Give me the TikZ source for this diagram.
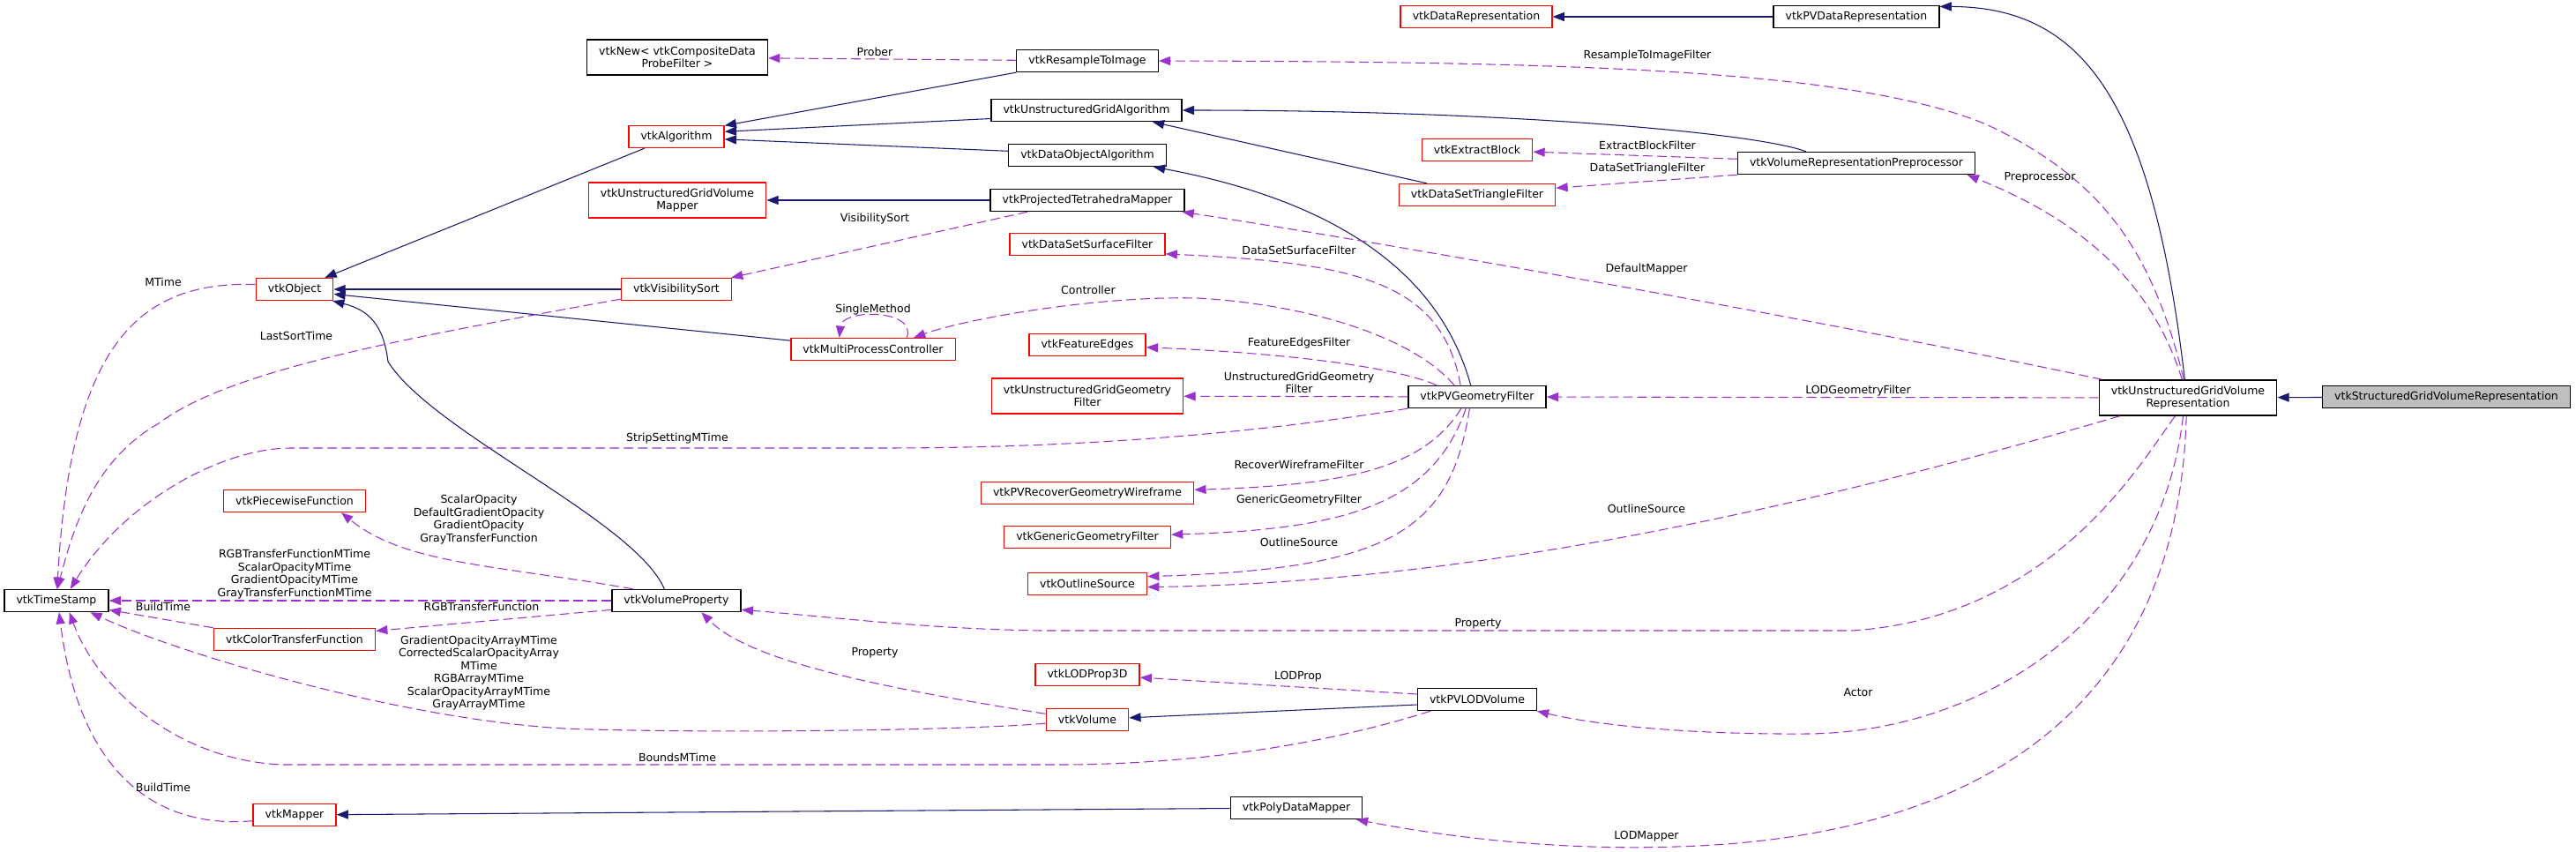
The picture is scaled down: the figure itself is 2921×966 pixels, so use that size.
\documentclass[tikz,border=0pt]{standalone}
\usepackage{fontspec}
\setmainfont{DejaVu Sans}
\usepackage{xcolor}
\usepackage{tikz}
\usetikzlibrary{arrows.meta}
\definecolor{inhblue}{HTML}{191970}
\definecolor{usepurple}{HTML}{9A32CD}
\definecolor{mainfill}{HTML}{BFBFBF}
\begin{document}
\begin{tikzpicture}[
    x=0.025cm, y=-0.025cm,
    cls/.style={draw=black, fill=white, line width=1pt, minimum height=0.625cm, inner xsep=0.34cm, inner ysep=0pt, align=center, font=\fontsize{8.9}{10.3}\selectfont},
    undoc/.style={cls, draw=red},
    main/.style={cls, fill=mainfill},
    tall/.style={minimum height=1cm},
    lbl/.style={inner sep=0pt, align=center, font=\fontsize{8.9}{10.3}\selectfont},
    inh/.style={draw=inhblue, line width=0.75pt, -{Triangle[length=0.33cm, width=0.25cm]}},
    usage/.style={draw=usepurple, line width=0.75pt, dash pattern=on 0.27cm off 0.13cm, -{Triangle[length=0.33cm, width=0.25cm]}}
]
    \path[use as bounding box, fill=white] (0,0) rectangle (2921,966);

    \node[cls] (stamp) at (64,681) {vtkTimeStamp};
    \node[undoc] (obj) at (334,328) {vtkObject};
    \node[undoc] (piecewise) at (334,568) {vtkPiecewiseFunction};
    \node[undoc] (colortf) at (334,725) {vtkColorTransferFunction};
    \node[undoc] (mapper) at (334,924) {vtkMapper};
    \node[cls, tall] (newprobe) at (768,65) {vtkNew< vtkCompositeData\\ProbeFilter >};
    \node[undoc] (algo) at (767,155) {vtkAlgorithm};
    \node[undoc, tall] (ugvmapper) at (768,227) {vtkUnstructuredGridVolume\\Mapper};
    \node[undoc] (vissort) at (767,328) {vtkVisibilitySort};
    \node[cls] (volprop) at (767,681) {vtkVolumeProperty};
    \node[undoc] (mpc) at (990,396) {vtkMultiProcessController};
    \node[cls] (resample) at (1233,69) {vtkResampleToImage};
    \node[cls] (ugalgo) at (1232,125) {vtkUnstructuredGridAlgorithm};
    \node[cls] (doalgo) at (1233,176) {vtkDataObjectAlgorithm};
    \node[cls] (ptmapper) at (1233,227) {vtkProjectedTetrahedraMapper};
    \node[undoc] (dssurf) at (1233,277) {vtkDataSetSurfaceFilter};
    \node[undoc] (features) at (1233,391) {vtkFeatureEdges};
    \node[undoc, tall] (uggeom) at (1233,449) {vtkUnstructuredGridGeometry\\Filter};
    \node[undoc] (wire) at (1233,559) {vtkPVRecoverGeometryWireframe};
    \node[undoc] (generic) at (1233,609) {vtkGenericGeometryFilter};
    \node[undoc] (outline) at (1233,662) {vtkOutlineSource};
    \node[undoc] (lodprop) at (1233,765) {vtkLODProp3D};
    \node[undoc] (volume) at (1233,816) {vtkVolume};
    \node[cls] (polymapper) at (1470,916) {vtkPolyDataMapper};
    \node[undoc] (datarep) at (1674,19) {vtkDataRepresentation};
    \node[undoc] (extract) at (1675,170) {vtkExtractBlock};
    \node[undoc] (dstri) at (1675,221) {vtkDataSetTriangleFilter};
    \node[cls] (pvgeom) at (1675,450) {vtkPVGeometryFilter};
    \node[cls] (pvlod) at (1675,793) {vtkPVLODVolume};
    \node[cls] (pvdatarep) at (2105,19) {vtkPVDataRepresentation};
    \node[cls] (vrp) at (2105,185) {vtkVolumeRepresentationPreprocessor};
    \node[cls, tall] (ugvr) at (2481,451) {vtkUnstructuredGridVolume\\Representation};
    \node[main] (sgvr) at (2774,450) {vtkStructuredGridVolumeRepresentation};

    \draw[inh] (sgvr) -- (ugvr);
    \draw[inh] (ugvr.100) .. controls (2440,110) and (2360,8) .. (pvdatarep.7);
    \draw[inh] (pvdatarep) -- (datarep);
    \draw[inh] (vrp.167) .. controls (1990,150) and (1700,125) .. (ugalgo.east);
    \draw[inh] (dstri.167) -- (ugalgo.-10);
    \draw[inh] (pvgeom.119) .. controls (1630,300) and (1500,225) .. (doalgo.-10);
    \draw[inh] (resample.south west) -- (algo.13);
    \draw[inh] (ugalgo.185) -- (algo.6);
    \draw[inh] (doalgo.177) -- (algo.-3);
    \draw[inh] (ptmapper) -- (ugvmapper);
    \draw[inh] (algo.200) -- (obj.21);
    \draw[inh] (vissort) -- (obj);
    \draw[inh] (mpc.174) -- (obj.-7);
    \draw[inh] (volprop.136) .. controls (720,590) and (490,490) .. (440,410) .. controls (435,370) and (420,352) .. (obj.-17);
    \draw[inh] (pvlod.185) -- (volume);
    \draw[inh] (polymapper) -- (mapper);

    \draw[usage] (resample) -- (newprobe);
    \draw[usage] (ugvr.103) .. controls (2440,280) and (2380,200) .. (2250,140) .. controls (2100,80) and (1800,70) .. (resample.east);
    \draw[usage] (ugvr.108) .. controls (2440,320) and (2360,250) .. (vrp.-6);
    \draw[usage] (vrp.178) -- (extract);
    \draw[usage] (vrp.south west) -- (dstri.5);
    \draw[usage] (ugvr.168) .. controls (2100,370) and (1600,280) .. (ptmapper.-7);
    \draw[usage] (ptmapper.191) -- (vissort.12);
    \draw[usage] (vissort.190) .. controls (450,385) and (260,420) .. (180,480) .. controls (110,520) and (85,590) .. (stamp.85);
    \draw[usage] (obj.173) .. controls (150,318) and (80,400) .. (stamp.87);
    \draw[usage] (pvgeom.south west) .. controls (1400,495) and (1200,508) .. (1000,508) -- (330,508) .. controls (250,508) and (140,570) .. (stamp.40);
    \draw[usage] (mpc.19) .. controls (1040,350) and (955,350) .. (mpc.161);
    \draw[usage] (pvgeom.153) .. controls (1600,380) and (1480,345) .. (1358,338) .. controls (1250,335) and (1100,360) .. (mpc.16);
    \draw[usage] (pvgeom.145) .. controls (1635,320) and (1540,298) .. (dssurf.-7);
    \draw[usage] (pvgeom.164) .. controls (1580,415) and (1450,400) .. (features);
    \draw[usage] (pvgeom) -- (uggeom);
    \draw[usage] (ugvr) -- (pvgeom);
    \draw[usage] (pvgeom.216) .. controls (1615,530) and (1530,550) .. (wire);
    \draw[usage] (pvgeom.226) .. controls (1625,570) and (1530,600) .. (generic);
    \draw[usage] (pvgeom.237) .. controls (1645,600) and (1580,645) .. (outline.7);
    \draw[usage] (ugvr.195) .. controls (2100,560) and (1700,660) .. (outline.-3);
    \draw[usage] (ugvr.235) .. controls (2430,520) and (2330,700) .. (2100,715) -- (1180,715) .. controls (1050,713) and (950,700) .. (volprop.-8);
    \draw[usage] (ugvr.255) .. controls (2450,700) and (2250,830) .. (2050,832) .. controls (1900,833) and (1800,820) .. (pvlod.-11);
    \draw[usage] (ugvr.265) .. controls (2470,800) and (2250,950) .. (1900,960) .. controls (1750,965) and (1620,945) .. (polymapper.-11);
    \draw[usage] (volprop.165) .. controls (560,640) and (460,640) .. (piecewise.-14);
    \draw[usage] (volprop) -- (stamp);
    \draw[usage] (volprop.188) -- (colortf.6);
    \draw[usage] (colortf.north west) -- (stamp.-10);
    \draw[usage] (volume.185) .. controls (1100,828) and (800,832) .. (640,826) .. controls (450,815) and (200,740) .. (stamp.-19);
    \draw[usage] (volume.172) .. controls (1000,780) and (850,750) .. (volprop.-25);
    \draw[usage] (pvlod.175) -- (lodprop.-3);
    \draw[usage] (pvlod.194) .. controls (1500,845) and (1350,867) .. (1200,867) -- (320,867) .. controls (200,862) and (110,780) .. (stamp.-42);
    \draw[usage] (mapper.188) .. controls (180,940) and (90,880) .. (stamp.-77);

    \node[lbl] (lprober) at (992,59) {Prober};
    \node[lbl] (lresample) at (1868,63) {ResampleToImageFilter};
    \node[lbl] (lextract) at (1868,165) {ExtractBlockFilter};
    \node[lbl] (ldstri) at (1868,191) {DataSetTriangleFilter};
    \node[lbl] (lpreproc) at (2313,201) {Preprocessor};
    \node[lbl] (lvissort) at (992,248) {VisibilitySort};
    \node[lbl] (ldssurf) at (1473,284) {DataSetSurfaceFilter};
    \node[lbl] (ldefmapper) at (1867,305) {DefaultMapper};
    \node[lbl] (lmtime) at (185,320) {MTime};
    \node[lbl] (lcontroller) at (1234,329) {Controller};
    \node[lbl] (lsingle) at (990,351) {SingleMethod};
    \node[lbl] (llastsort) at (336,381) {LastSortTime};
    \node[lbl] (lfeatures) at (1473,389) {FeatureEdgesFilter};
    \node[lbl] (luggeom) at (1473,434) {UnstructuredGridGeometry\\Filter};
    \node[lbl] (llodgeom) at (2107,443) {LODGeometryFilter};
    \node[lbl] (lstrip) at (768,497) {StripSettingMTime};
    \node[lbl] (lwire) at (1473,527) {RecoverWireframeFilter};
    \node[lbl] (lgeneric) at (1473,567) {GenericGeometryFilter};
    \node[lbl] (loutlineb) at (1867,577) {OutlineSource};
    \node[lbl] (lopacity) at (543,589) {ScalarOpacity\\DefaultGradientOpacity\\GradientOpacity\\GrayTransferFunction};
    \node[lbl] (loutlinea) at (1473,615) {OutlineSource};
    \node[lbl] (lmtimes) at (334,651) {RGBTransferFunctionMTime\\ScalarOpacityMTime\\GradientOpacityMTime\\GrayTransferFunctionMTime};
    \node[lbl] (lbuilda) at (185,688) {BuildTime};
    \node[lbl] (lrgbtf) at (546,688) {RGBTransferFunction};
    \node[lbl] (lpropb) at (1676,707) {Property};
    \node[lbl] (lpropa) at (992,740) {Property};
    \node[lbl] (larrays) at (543,763) {GradientOpacityArrayMTime\\CorrectedScalarOpacityArray\\MTime\\RGBArrayMTime\\ScalarOpacityArrayMTime\\GrayArrayMTime};
    \node[lbl] (llodprop) at (1472,767) {LODProp};
    \node[lbl] (lactor) at (2107,785) {Actor};
    \node[lbl] (lbounds) at (768,859) {BoundsMTime};
    \node[lbl] (lbuildb) at (185,893) {BuildTime};
    \node[lbl] (llodmapper) at (1867,948) {LODMapper};
\end{tikzpicture}
\end{document}
